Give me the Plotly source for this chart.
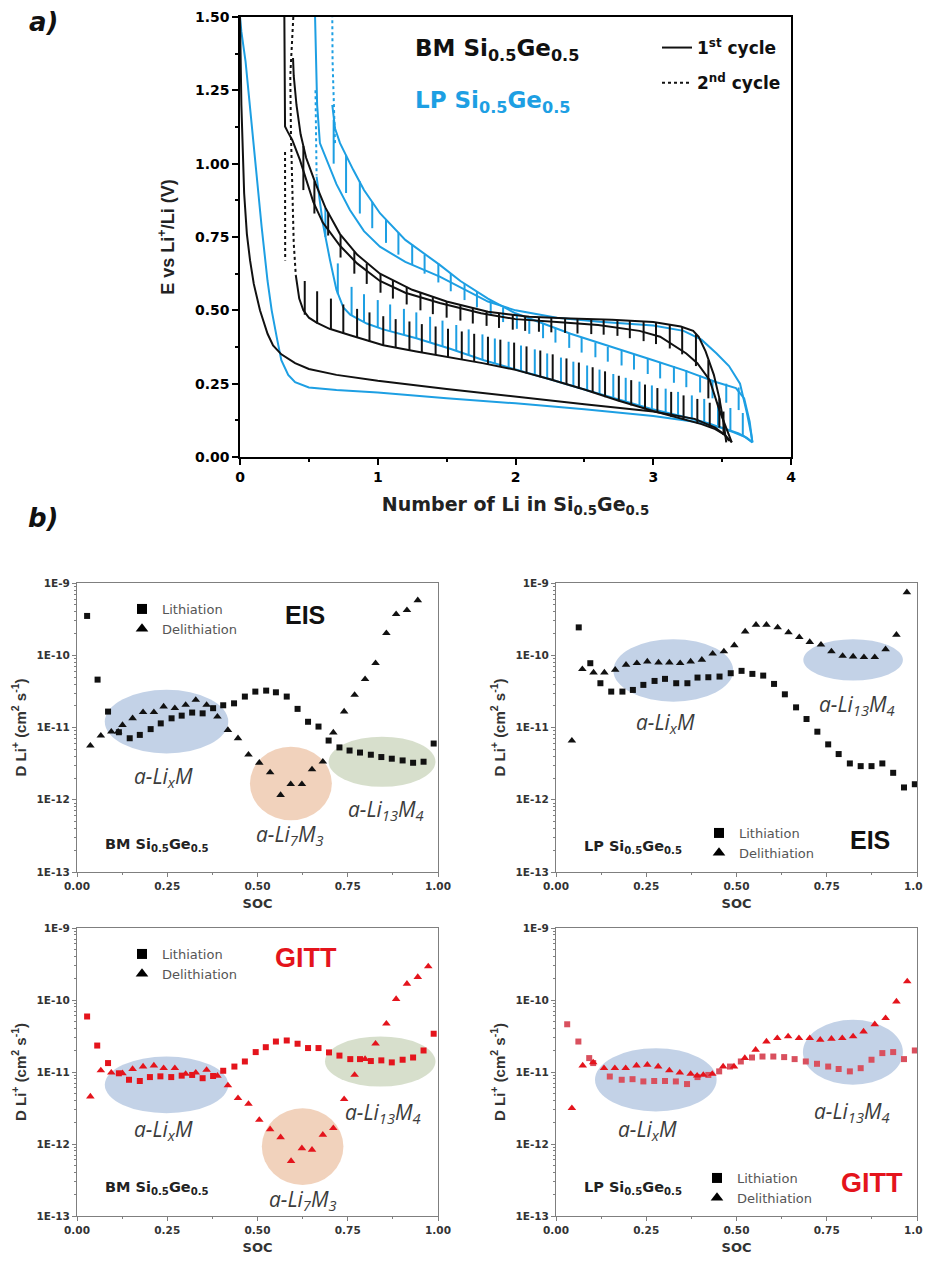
import numpy as np
import plotly.graph_objects as go

# page body adds an 8px margin: the figure is sized/positioned to compensate
OFF = 8
W, H = 931 - OFF, 1266 - OFF
BLACK = "#111111"
BLUE = "#1d9fe3"
RED = "#e4141c"
PINK = "#d9505e"
GRAY = "#7f7f7f"
FONT = "Liberation Sans"
WIDE = "DejaVu Sans"

# ================= panel a : voltage profiles =================
# BM Si0.5Ge0.5 - 1st lithiation (continuous)
bm_l1_x = [0.0, 0.01, 0.03, 0.05, 0.073, 0.1, 0.145, 0.2, 0.24, 0.3, 0.4, 0.5, 0.7, 1.0, 1.5, 2.0, 2.5, 3.0, 3.3, 3.45, 3.52, 3.57]
bm_l1_E = [1.5, 1.2, 0.9, 0.76, 0.67, 0.59, 0.5, 0.42, 0.38, 0.35, 0.32, 0.3, 0.28, 0.26, 0.232, 0.205, 0.18, 0.155, 0.13, 0.1, 0.075, 0.05]
# BM - 1st delithiation (continuous)
bm_d1_x = [3.57, 3.53, 3.48, 3.41, 3.32, 3.24, 3.15, 3.05, 2.9, 2.6, 2.3, 2.0, 1.75, 1.45, 1.2, 1.016, 0.85, 0.726, 0.6, 0.532, 0.435, 0.38, 0.345, 0.327, 0.322]
bm_d1_E = [0.05, 0.1, 0.16, 0.262, 0.32, 0.353, 0.38, 0.41, 0.43, 0.45, 0.46, 0.47, 0.49, 0.525, 0.56, 0.6, 0.66, 0.72, 0.8, 0.87, 1.013, 1.08, 1.11, 1.127, 1.5]
# BM - GITT lithiation (base curve + relaxation spikes)
bm_l2_x = [0.405, 0.43, 0.46, 0.5, 0.556, 0.65, 0.8, 1.04, 1.28, 1.52, 1.76, 2.0, 2.25, 2.5, 2.75, 3.0, 3.2, 3.35, 3.45, 3.52, 3.55]
bm_l2_E = [0.62, 0.54, 0.5, 0.475, 0.458, 0.437, 0.415, 0.381, 0.36, 0.341, 0.32, 0.297, 0.265, 0.23, 0.192, 0.157, 0.132, 0.112, 0.095, 0.075, 0.055]
bm_l2_sx = [0.47, 0.56, 0.66, 0.75, 0.85, 0.94, 1.04, 1.13, 1.23, 1.32, 1.42, 1.51, 1.61, 1.70, 1.80, 1.89, 1.99, 2.08, 2.18, 2.27, 2.37, 2.46, 2.56, 2.65, 2.75, 2.84, 2.94, 3.03, 3.13, 3.22, 3.32, 3.41, 3.51]
bm_l2_sb = [0.485, 0.455, 0.433, 0.42, 0.406, 0.393, 0.381, 0.372, 0.364, 0.356, 0.348, 0.341, 0.333, 0.325, 0.316, 0.307, 0.297, 0.285, 0.272, 0.26, 0.246, 0.233, 0.218, 0.204, 0.19, 0.176, 0.162, 0.15, 0.137, 0.127, 0.115, 0.102, 0.075]
bm_l2_st = [0.60, 0.565, 0.54, 0.52, 0.505, 0.493, 0.48, 0.47, 0.462, 0.453, 0.445, 0.437, 0.428, 0.42, 0.41, 0.4, 0.39, 0.377, 0.363, 0.35, 0.336, 0.322, 0.306, 0.292, 0.277, 0.262, 0.247, 0.235, 0.222, 0.21, 0.198, 0.185, 0.155]
# BM - GITT delithiation
bm_d2_x = [3.53, 3.51, 3.48, 3.44, 3.38, 3.33, 3.29, 3.2, 3.0, 2.7, 2.4, 2.1, 1.8, 1.5, 1.25, 1.016, 0.85, 0.726, 0.62, 0.55, 0.48, 0.44, 0.41, 0.39, 0.385]
bm_d2_E = [0.05, 0.12, 0.2, 0.28, 0.36, 0.41, 0.43, 0.445, 0.46, 0.468, 0.472, 0.478, 0.495, 0.53, 0.57, 0.625, 0.69, 0.76, 0.85, 0.93, 1.02, 1.1, 1.2, 1.3, 1.36]
bm_d2_sx = [0.46, 0.54, 0.64, 0.73, 0.83, 0.92, 1.02, 1.11, 1.21, 1.31, 1.40, 1.50, 1.60, 1.69, 1.79, 1.88, 1.98, 2.07, 2.17, 2.26, 2.36, 2.45, 2.55, 2.64, 2.74, 2.83, 2.93, 3.02, 3.12, 3.21, 3.31, 3.40, 3.48]
bm_d2_sb = [1.06, 0.94, 0.835, 0.757, 0.7, 0.66, 0.624, 0.602, 0.58, 0.56, 0.545, 0.53, 0.518, 0.508, 0.497, 0.49, 0.484, 0.479, 0.477, 0.475, 0.473, 0.471, 0.47, 0.469, 0.467, 0.465, 0.462, 0.459, 0.452, 0.443, 0.42, 0.33, 0.2]
bm_d2_st = [0.91, 0.83, 0.755, 0.68, 0.625, 0.59, 0.56, 0.54, 0.52, 0.5, 0.487, 0.475, 0.465, 0.455, 0.447, 0.44, 0.434, 0.43, 0.427, 0.425, 0.423, 0.421, 0.419, 0.417, 0.413, 0.405, 0.395, 0.385, 0.37, 0.35, 0.31, 0.2, 0.1]
# BM - 2nd cycle, sparse high-voltage points
bm_dot_x = [0.387, 0.375, 0.365, 0.37, 0.38, 0.39, 0.405, None, 0.327, 0.327, 0.328]
bm_dot_E = [1.5, 1.4, 1.3, 1.1, 0.9, 0.73, 0.62, None, 1.04, 0.85, 0.67]

# LP Si0.5Ge0.5 - 1st lithiation
lp_l1_x = [0.0, 0.01, 0.04, 0.07, 0.109, 0.157, 0.2, 0.23, 0.27, 0.3, 0.35, 0.4, 0.5, 0.7, 1.0, 1.5, 2.0, 2.5, 3.0, 3.3, 3.5, 3.62, 3.68, 3.72]
lp_l1_E = [1.5, 1.45, 1.35, 1.2, 1.013, 0.785, 0.6, 0.5, 0.4, 0.33, 0.28, 0.255, 0.237, 0.228, 0.22, 0.2, 0.183, 0.163, 0.14, 0.12, 0.1, 0.08, 0.065, 0.05]
# LP - 1st delithiation
lp_d1_x = [3.72, 3.71, 3.68, 3.63, 3.55, 3.46, 3.35, 3.22, 3.0, 2.61, 2.3, 2.0, 1.8, 1.45, 1.2, 1.016, 0.9, 0.798, 0.7, 0.629, 0.58, 0.56, 0.55, 0.545]
lp_d1_E = [0.05, 0.08, 0.15, 0.25, 0.31, 0.353, 0.4, 0.43, 0.448, 0.461, 0.475, 0.5, 0.53, 0.615, 0.665, 0.717, 0.77, 0.842, 0.93, 1.013, 1.07, 1.2, 1.35, 1.5]
# LP - GITT lithiation
lp_l2_x = [0.556, 0.6, 0.653, 0.7, 0.75, 0.8, 0.92, 1.04, 1.28, 1.52, 1.77, 2.0, 2.25, 2.5, 2.75, 2.98, 3.2, 3.4, 3.58, 3.66, 3.72]
lp_l2_E = [0.956, 0.8, 0.672, 0.57, 0.51, 0.485, 0.455, 0.435, 0.405, 0.37, 0.33, 0.3, 0.265, 0.23, 0.195, 0.165, 0.14, 0.115, 0.085, 0.07, 0.05]
lp_l2_sx = [0.62, 0.71, 0.81, 0.9, 1.0, 1.09, 1.19, 1.28, 1.38, 1.47, 1.57, 1.66, 1.76, 1.85, 1.95, 2.04, 2.14, 2.23, 2.33, 2.42, 2.52, 2.61, 2.71, 2.8, 2.9, 2.99, 3.09, 3.18, 3.28, 3.37, 3.47, 3.56, 3.65]
lp_l2_sb = [0.75, 0.555, 0.482, 0.46, 0.442, 0.43, 0.416, 0.405, 0.39, 0.378, 0.362, 0.347, 0.331, 0.317, 0.306, 0.294, 0.281, 0.268, 0.254, 0.24, 0.228, 0.215, 0.2, 0.188, 0.175, 0.163, 0.152, 0.142, 0.13, 0.119, 0.107, 0.088, 0.072]
lp_l2_st = [0.85, 0.66, 0.58, 0.555, 0.535, 0.52, 0.505, 0.493, 0.478, 0.465, 0.45, 0.435, 0.418, 0.404, 0.393, 0.38, 0.367, 0.353, 0.339, 0.325, 0.312, 0.298, 0.283, 0.27, 0.257, 0.244, 0.233, 0.222, 0.21, 0.198, 0.186, 0.167, 0.15]
# LP - GITT delithiation
lp_d2_x = [3.72, 3.7, 3.66, 3.6, 3.46, 3.22, 3.0, 2.8, 2.61, 2.4, 2.2, 2.0, 1.8, 1.6, 1.45, 1.2, 1.016, 0.9, 0.822, 0.726, 0.69, 0.67]
lp_d2_E = [0.05, 0.12, 0.2, 0.235, 0.255, 0.296, 0.33, 0.36, 0.387, 0.42, 0.455, 0.49, 0.54, 0.6, 0.655, 0.74, 0.831, 0.91, 0.979, 1.07, 1.12, 1.2]
lp_d2_sx = [0.68, 0.77, 0.87, 0.96, 1.06, 1.15, 1.25, 1.34, 1.44, 1.53, 1.63, 1.72, 1.82, 1.91, 2.01, 2.1, 2.2, 2.29, 2.39, 2.48, 2.58, 2.67, 2.77, 2.86, 2.96, 3.05, 3.15, 3.24, 3.34, 3.43, 3.53, 3.62]
lp_d2_sb = [1.15, 1.03, 0.94, 0.87, 0.81, 0.765, 0.725, 0.69, 0.66, 0.625, 0.59, 0.565, 0.535, 0.51, 0.487, 0.47, 0.455, 0.44, 0.422, 0.406, 0.39, 0.375, 0.364, 0.35, 0.336, 0.323, 0.31, 0.296, 0.278, 0.262, 0.25, 0.237]
lp_d2_st = [1.0, 0.9, 0.83, 0.78, 0.73, 0.69, 0.655, 0.625, 0.595, 0.565, 0.535, 0.51, 0.483, 0.46, 0.437, 0.42, 0.405, 0.39, 0.372, 0.356, 0.34, 0.325, 0.312, 0.298, 0.283, 0.268, 0.253, 0.238, 0.22, 0.2, 0.185, 0.16]
lp_dot_x = [0.69, 0.68, 0.672, 0.67, None, 0.548, 0.552, 0.556, 0.556]
lp_dot_E = [1.07, 1.2, 1.35, 1.5, None, 1.25, 1.16, 1.05, 0.96]

# ================= panel b : diffusion coefficients =================
bm_eis_lith_soc = [0.028, 0.057, 0.086, 0.116, 0.146, 0.174, 0.204, 0.232, 0.262, 0.29, 0.319, 0.348, 0.377, 0.405, 0.435, 0.465, 0.494, 0.524, 0.551, 0.581, 0.611, 0.64, 0.669, 0.697, 0.727, 0.755, 0.784, 0.814, 0.843, 0.872, 0.902, 0.931, 0.96, 0.988]
bm_eis_lith_D = [3.5e-10, 4.6e-11, 1.66e-11, 8.6e-12, 7.1e-12, 7.9e-12, 9.5e-12, 1.14e-11, 1.34e-11, 1.46e-11, 1.61e-11, 1.57e-11, 1.85e-11, 2.03e-11, 2.16e-11, 2.68e-11, 3.14e-11, 3.24e-11, 3.07e-11, 2.68e-11, 1.81e-11, 1.2e-11, 1.03e-11, 6.6e-12, 5.3e-12, 4.8e-12, 4.5e-12, 4.2e-12, 3.9e-12, 3.7e-12, 3.5e-12, 3.25e-12, 3.36e-12, 6.0e-12]
bm_eis_del_soc = [0.037, 0.066, 0.095, 0.114, 0.126, 0.154, 0.183, 0.213, 0.24, 0.271, 0.301, 0.329, 0.359, 0.389, 0.418, 0.446, 0.475, 0.505, 0.535, 0.564, 0.592, 0.623, 0.651, 0.681, 0.71, 0.74, 0.769, 0.798, 0.827, 0.857, 0.884, 0.914, 0.944]
bm_eis_del_D = [5.6e-12, 7.7e-12, 8.75e-12, 8.75e-12, 1.08e-11, 1.34e-11, 1.63e-11, 1.63e-11, 1.95e-11, 1.85e-11, 2.05e-11, 2.41e-11, 2.05e-11, 1.41e-11, 9.2e-12, 7.1e-12, 4.2e-12, 3.25e-12, 2.39e-12, 1.16e-12, 1.64e-12, 1.64e-12, 2.63e-12, 3.36e-12, 8.5e-12, 1.66e-11, 2.82e-11, 4.66e-11, 7.76e-11, 2.02e-10, 3.7e-10, 4.2e-10, 5.75e-10]

lp_eis_lith_soc = [0.063, 0.095, 0.123, 0.153, 0.184, 0.213, 0.242, 0.273, 0.302, 0.333, 0.364, 0.392, 0.422, 0.453, 0.484, 0.514, 0.544, 0.574, 0.604, 0.634, 0.665, 0.694, 0.724, 0.754, 0.783, 0.814, 0.844, 0.874, 0.904, 0.934, 0.964, 0.994]
lp_eis_lith_D = [2.43e-10, 7.76e-11, 4.1e-11, 3.14e-11, 3.14e-11, 3.31e-11, 3.89e-11, 4.41e-11, 4.71e-11, 4.1e-11, 4.1e-11, 4.91e-11, 4.96e-11, 5.07e-11, 5.64e-11, 6.08e-11, 5.52e-11, 5.23e-11, 4.01e-11, 2.88e-11, 1.9e-11, 1.31e-11, 8.75e-12, 5.84e-12, 4.29e-12, 3.18e-12, 2.92e-12, 2.92e-12, 3.18e-12, 2.36e-12, 1.48e-12, 1.64e-12]
lp_eis_del_soc = [0.044, 0.073, 0.104, 0.134, 0.164, 0.194, 0.224, 0.253, 0.284, 0.314, 0.344, 0.373, 0.404, 0.434, 0.465, 0.494, 0.524, 0.554, 0.583, 0.614, 0.644, 0.674, 0.703, 0.734, 0.763, 0.794, 0.823, 0.853, 0.883, 0.913, 0.943, 0.972]
lp_eis_del_D = [6.56e-12, 6.41e-11, 5.77e-11, 5.77e-11, 6.28e-11, 7.36e-11, 7.76e-11, 8.18e-11, 7.93e-11, 7.93e-11, 7.76e-11, 8.18e-11, 8.63e-11, 1.05e-10, 1.13e-10, 1.37e-10, 2.13e-10, 2.64e-10, 2.64e-10, 2.43e-10, 2.07e-10, 1.78e-10, 1.52e-10, 1.4e-10, 1.13e-10, 9.8e-11, 9.6e-11, 9.4e-11, 9.4e-11, 1.21e-10, 1.92e-10, 7.43e-10]

bm_gitt_lith_soc = [0.028, 0.056, 0.086, 0.116, 0.144, 0.174, 0.202, 0.231, 0.261, 0.29, 0.319, 0.348, 0.377, 0.405, 0.436, 0.465, 0.495, 0.523, 0.551, 0.581, 0.611, 0.64, 0.669, 0.698, 0.727, 0.757, 0.784, 0.814, 0.843, 0.872, 0.902, 0.931, 0.96, 0.988]
bm_gitt_lith_D = [5.9e-11, 2.33e-11, 1.33e-11, 9.6e-12, 7.8e-12, 7.5e-12, 8.5e-12, 8.7e-12, 8.5e-12, 8.9e-12, 9.1e-12, 8.2e-12, 8.8e-12, 1.04e-11, 1.19e-11, 1.4e-11, 1.89e-11, 2.21e-11, 2.65e-11, 2.74e-11, 2.47e-11, 2.15e-11, 2.15e-11, 1.87e-11, 1.69e-11, 1.51e-11, 1.51e-11, 1.42e-11, 1.45e-11, 1.36e-11, 1.48e-11, 1.59e-11, 1.99e-11, 3.4e-11]
bm_gitt_del_soc = [0.037, 0.066, 0.095, 0.126, 0.154, 0.183, 0.213, 0.24, 0.271, 0.301, 0.329, 0.359, 0.389, 0.418, 0.446, 0.475, 0.505, 0.535, 0.564, 0.593, 0.623, 0.651, 0.681, 0.71, 0.74, 0.769, 0.798, 0.827, 0.857, 0.884, 0.914, 0.944, 0.973]
bm_gitt_del_D = [4.56e-12, 1.05e-11, 9.8e-12, 9.6e-12, 1.1e-11, 1.19e-11, 1.23e-11, 1.13e-11, 1.13e-11, 9.4e-12, 9.8e-12, 1.07e-11, 8.85e-12, 6.5e-12, 4.33e-12, 3.6e-12, 2.16e-12, 1.6e-12, 1.24e-12, 5.8e-13, 8.7e-13, 8.3e-13, 1.34e-12, 1.66e-12, 4.19e-12, 9.1e-12, 1.51e-11, 2.47e-11, 4.68e-11, 1.03e-10, 1.68e-10, 2.08e-10, 2.93e-10]

lp_gitt_lith_soc = [0.031, 0.062, 0.092, 0.103, 0.149, 0.182, 0.212, 0.242, 0.272, 0.302, 0.332, 0.363, 0.392, 0.422, 0.452, 0.482, 0.512, 0.543, 0.572, 0.602, 0.632, 0.661, 0.692, 0.723, 0.754, 0.783, 0.814, 0.844, 0.874, 0.904, 0.934, 0.964, 0.994]
lp_gitt_lith_D = [4.6e-11, 2.65e-11, 1.56e-11, 1.33e-11, 8.65e-12, 7.8e-12, 7.95e-12, 7.4e-12, 7.5e-12, 7.5e-12, 7.4e-12, 6.8e-12, 8.5e-12, 9.1e-12, 1.02e-11, 1.19e-11, 1.4e-11, 1.59e-11, 1.64e-11, 1.64e-11, 1.61e-11, 1.51e-11, 1.4e-11, 1.3e-11, 1.19e-11, 1.1e-11, 1.02e-11, 1.13e-11, 1.48e-11, 1.83e-11, 1.89e-11, 1.51e-11, 1.99e-11]
lp_gitt_del_soc = [0.044, 0.074, 0.103, 0.133, 0.163, 0.193, 0.223, 0.253, 0.283, 0.314, 0.343, 0.373, 0.391, 0.408, 0.433, 0.463, 0.493, 0.523, 0.553, 0.583, 0.613, 0.643, 0.673, 0.703, 0.732, 0.763, 0.793, 0.823, 0.852, 0.883, 0.913, 0.943, 0.973]
lp_gitt_del_D = [3.14e-12, 1.23e-11, 1.36e-11, 1.13e-11, 1.13e-11, 1.13e-11, 1.23e-11, 1.26e-11, 1.19e-11, 1.05e-11, 9.8e-12, 9.4e-12, 8.9e-12, 9.1e-12, 9.4e-12, 1.19e-11, 1.19e-11, 1.56e-11, 2.03e-11, 2.65e-11, 2.95e-11, 3.12e-11, 2.95e-11, 2.95e-11, 2.8e-11, 2.89e-11, 2.95e-11, 3.12e-11, 3.65e-11, 4.6e-11, 5.6e-11, 9.5e-11, 1.81e-10]

# highlighted phase regions: (soc0, soc1, D0, D1, colour)
C_BLUE, C_ORANGE, C_GREEN = "#bdcde4", "#f0cdb5", "#d3dbc6"
bm_eis_regions = [(0.077, 0.419, 4.38e-12, 3.32e-11, C_BLUE), (0.479, 0.706, 5.2e-13, 5.42e-12, C_ORANGE), (0.697, 0.993, 1.51e-12, 7.46e-12, C_GREEN)]
lp_eis_regions = [(0.159, 0.491, 2.28e-11, 1.67e-10, C_BLUE), (0.685, 0.961, 4.47e-11, 1.67e-10, C_BLUE)]
bm_gitt_regions = [(0.077, 0.419, 2.68e-12, 1.64e-11, C_BLUE), (0.512, 0.738, 2.7e-13, 3.14e-12, C_ORANGE), (0.687, 0.993, 6.28e-12, 3.12e-11, C_GREEN)]
lp_gitt_regions = [(0.108, 0.445, 2.83e-12, 2.14e-11, C_BLUE), (0.684, 0.961, 6.64e-12, 5.31e-11, C_BLUE)]


def px(x):
    return (x - OFF) / W


def py(y):
    return 1 - (y - OFF) / H


def spikes(xs, base, tip):
    X, Y = [], []
    for a, b, c in zip(xs, base, tip):
        X += [a, a, None]
        Y += [b, c, None]
    return X, Y


fig = go.Figure()

# ---- panel a traces ----
def line(x, y, color, dash="solid", width=2, name=None, show=False, group=None):
    fig.add_trace(go.Scatter(x=x, y=y, mode="lines", line=dict(color=color, width=width, dash=dash),
                             xaxis="x", yaxis="y", showlegend=show, name=name, hoverinfo="skip",
                             connectgaps=False, legendgroup=group))

for col, l1x, l1E, d1x, d1E, l2x, l2E, l2s, d2x, d2E, d2s, dotx, dotE in [
    (BLUE, lp_l1_x, lp_l1_E, lp_d1_x, lp_d1_E, lp_l2_x, lp_l2_E, (lp_l2_sx, lp_l2_sb, lp_l2_st),
     lp_d2_x, lp_d2_E, (lp_d2_sx, lp_d2_sb, lp_d2_st), lp_dot_x, lp_dot_E),
    (BLACK, bm_l1_x, bm_l1_E, bm_d1_x, bm_d1_E, bm_l2_x, bm_l2_E, (bm_l2_sx, bm_l2_sb, bm_l2_st),
     bm_d2_x, bm_d2_E, (bm_d2_sx, bm_d2_sb, bm_d2_st), bm_dot_x, bm_dot_E),
]:
    line(l1x, l1E, col)
    line(d1x, d1E, col)
    line(l2x, l2E, col)
    sx, sy = spikes(*l2s)
    line(sx, sy, col)
    line(d2x, d2E, col)
    sx, sy = spikes(*d2s)
    line(sx, sy, col)
    line(dotx, dotE, col, dash="dot", width=2)

# legend entries of panel a
line([None], [None], BLACK, "solid", 2, "1<sup>st</sup> cycle", True, "c1")
line([None], [None], BLACK, "3px,3px", 2, "2<sup>nd</sup> cycle", True, "c2")

# ---- panel b traces ----
panels = [
    ("x2", "y2", "legend2", bm_eis_lith_soc, bm_eis_lith_D, bm_eis_del_soc, bm_eis_del_D, BLACK, BLACK, bm_eis_regions),
    ("x3", "y3", "legend3", lp_eis_lith_soc, lp_eis_lith_D, lp_eis_del_soc, lp_eis_del_D, BLACK, BLACK, lp_eis_regions),
    ("x4", "y4", "legend4", bm_gitt_lith_soc, bm_gitt_lith_D, bm_gitt_del_soc, bm_gitt_del_D, RED, RED, bm_gitt_regions),
    ("x5", "y5", "legend5", lp_gitt_lith_soc, lp_gitt_lith_D, lp_gitt_del_soc, lp_gitt_del_D, PINK, RED, lp_gitt_regions),
]
shapes = []
for xa, ya, lg, ls, lD, ds, dD, cl, cd, regions in panels:
    for s0, s1, D0, D1, c in regions:
        shapes.append(dict(type="circle", xref=xa, yref=ya, x0=s0, x1=s1, y0=D0, y1=D1,
                           fillcolor=c, line=dict(width=0), layer="below", opacity=0.9))
    fig.add_trace(go.Scatter(x=ls, y=lD, mode="markers", xaxis=xa, yaxis=ya, showlegend=False,
                             marker=dict(symbol="square", size=6, color=cl), hoverinfo="skip"))
    fig.add_trace(go.Scatter(x=ds, y=dD, mode="markers", xaxis=xa, yaxis=ya, showlegend=False,
                             marker=dict(symbol="triangle-up", size=7.5, color=cd), hoverinfo="skip"))
    fig.add_trace(go.Scatter(x=[None], y=[None], mode="markers", xaxis=xa, yaxis=ya, legend=lg,
                             name="Lithiation", marker=dict(symbol="square", size=10, color="black")))
    fig.add_trace(go.Scatter(x=[None], y=[None], mode="markers", xaxis=xa, yaxis=ya, legend=lg,
                             name="Delithiation", marker=dict(symbol="triangle-up", size=11, color="black")))

# ---- axes ----
tickA = dict(family=WIDE, size=14, color="black", weight="bold")
layout = dict(
    width=W, height=H, margin=dict(l=0, r=0, t=0, b=0, autoexpand=False),
    paper_bgcolor="white", plot_bgcolor="white",
    font=dict(family=FONT),
    shapes=shapes,
)
layout["xaxis"] = dict(domain=[px(240), px(791)], range=[0, 4], anchor="y", automargin=False,
                       showline=True, linecolor="black", linewidth=1.5, mirror=True,
                       ticks="outside", ticklen=6, tickwidth=1.5, tickcolor="black",
                       tickvals=[0, 1, 2, 3, 4], tickfont=tickA, showgrid=False, zeroline=False,
                       minor=dict(tickvals=[0.5, 1.5, 2.5, 3.5], ticks="outside", ticklen=3, tickwidth=1.5, tickcolor="black"),
                       title=dict(text="Number of Li in Si<sub>0.5</sub>Ge<sub>0.5</sub>",
                                  font=dict(family=WIDE, size=19, color="#222", weight="bold"), standoff=14))
layout["yaxis"] = dict(domain=[py(457), py(17)], range=[0, 1.5], anchor="x", automargin=False,
                       showline=True, linecolor="black", linewidth=1.5, mirror=True,
                       ticks="outside", ticklen=6, tickwidth=1.5, tickcolor="black",
                       tickvals=[0, 0.25, 0.5, 0.75, 1.0, 1.25, 1.5],
                       ticktext=["0.00", "0.25", "0.50", "0.75", "1.00", "1.25", "1.50"],
                       tickfont=tickA, showgrid=False, zeroline=False,
                       minor=dict(tickvals=[0.125, 0.375, 0.625, 0.875, 1.125, 1.375], ticks="outside", ticklen=3, tickwidth=1.5, tickcolor="black"),
                       title=dict(text="E vs Li<sup>+</sup>/Li (V)",
                                  font=dict(family=FONT, size=18, color="#222", weight="bold"), standoff=16))

small = dict(family=WIDE, size=10.5, color="#333", weight="bold")
logvals = [1e-13, 1e-12, 1e-11, 1e-10, 1e-9]
logtext = ["1E-13", "1E-12", "1E-11", "1E-10", "1E-9"]
minor_log = [m * 10.0 ** e for e in range(-13, -9) for m in range(2, 10)]
doms = {
    "2": ([px(77), px(438)], [py(872), py(583)]),
    "3": ([px(556), px(917)], [py(872), py(583)]),
    "4": ([px(77), px(438)], [py(1216), py(928)]),
    "5": ([px(556), px(917)], [py(1216), py(928)]),
}
for k, (dx, dy) in doms.items():
    layout["xaxis" + k] = dict(domain=dx, range=[0, 1], anchor="y" + k, automargin=False,
                               showline=True, linecolor=GRAY, linewidth=1, mirror=True,
                               ticks="outside", ticklen=4, tickcolor=GRAY,
                               tickvals=[0, 0.25, 0.5, 0.75, 1.0], ticktext=["0.00", "0.25", "0.50", "0.75", "1.00"],
                               tickfont=small, showgrid=False, zeroline=False,
                               minor=dict(tickvals=[0.125, 0.375, 0.625, 0.875], ticks="outside", ticklen=2, tickcolor=GRAY),
                               title=dict(text="SOC", font=dict(family=WIDE, size=13, color="#333", weight="bold"), standoff=8))
    layout["yaxis" + k] = dict(domain=dy, type="log", range=[-13, -9], anchor="x" + k, automargin=False,
                               showline=True, linecolor=GRAY, linewidth=1, mirror=True,
                               ticks="outside", ticklen=4, tickcolor=GRAY,
                               tickvals=logvals, ticktext=logtext, tickfont=small,
                               showgrid=False, zeroline=False,
                               minor=dict(tickvals=minor_log, ticks="outside", ticklen=2, tickcolor=GRAY),
                               title=dict(text="D Li<sup>+</sup> (cm<sup>2</sup> s<sup>-1</sup>)",
                                          font=dict(family=FONT, size=15, color="#333", weight="bold"), standoff=6))

# legends
layout["legend"] = dict(x=px(657), y=py(30), xanchor="left", yanchor="top", bgcolor="rgba(0,0,0,0)",
                        font=dict(family=WIDE, size=17, color="#111", weight="bold"), itemwidth=30,
                        tracegroupgap=10)
leg_font = dict(family=WIDE, size=13, color="#555")
for name, (lx, ly) in {"legend2": (122, 594), "legend3": (699, 818), "legend4": (122, 939), "legend5": (697, 1163)}.items():
    layout[name] = dict(x=px(lx), y=py(ly), xanchor="left", yanchor="top", bgcolor="rgba(0,0,0,0)",
                        font=leg_font, itemwidth=30, tracegroupgap=0)

fig.update_layout(**layout)

# ---- text annotations ----
def ann(text, x, y, size, color="#111", bold=True, xanchor="center", family=FONT):
    f = dict(family=family, size=size, color=color)
    if bold:
        f["weight"] = "bold"
    fig.add_annotation(text=text, x=px(x), y=py(y), xref="paper", yref="paper", showarrow=False,
                       xanchor=xanchor, yanchor="middle", font=f)

SG = "Si<sub>0.5</sub>Ge<sub>0.5</sub>"
ann("<i>a)</i>", 43, 22, 26, family=WIDE)
ann("<i>b)</i>", 43, 518, 26, family=WIDE)
ann("BM " + SG, 413, 50, 23, "#111", xanchor="left", family=WIDE)
ann("LP " + SG, 413, 102, 23, BLUE, xanchor="left", family=WIDE)

ph_col = "#3c3c3c"
IT = "Open Sans"
LixM = "<i>a-Li<sub>x</sub>M</i>"
Li7 = "<i>a-Li<sub>7</sub>M<sub>3</sub></i>"
Li13 = "<i>a-Li<sub>13</sub>M<sub>4</sub></i>"
# BM EIS
ann("EIS", 305, 615, 25, "#111")
ann("BM " + SG, 103, 845, 14.5, "#222", xanchor="left", family=WIDE)
ann(LixM, 163, 777, 21, ph_col, bold=False, family=IT)
ann(Li7, 290, 835, 21, ph_col, bold=False, family=IT)
ann(Li13, 386, 810, 21, ph_col, bold=False, family=IT)
# LP EIS
ann("EIS", 870, 840, 25, "#111")
ann("LP " + SG, 582, 847, 14.5, "#222", xanchor="left", family=WIDE)
ann(LixM, 665, 723, 21, ph_col, bold=False, family=IT)
ann(Li13, 857, 705, 21, ph_col, bold=False, family=IT)
# BM GITT
ann("GITT", 306, 958, 27, RED)
ann("BM " + SG, 103, 1188, 14.5, "#222", xanchor="left", family=WIDE)
ann(LixM, 163, 1130, 21, ph_col, bold=False, family=IT)
ann(Li7, 303, 1200, 21, ph_col, bold=False, family=IT)
ann(Li13, 383, 1113, 21, ph_col, bold=False, family=IT)
# LP GITT
ann("GITT", 872, 1183, 27, RED)
ann("LP " + SG, 582, 1188, 14.5, "#222", xanchor="left", family=WIDE)
ann(LixM, 647, 1130, 21, ph_col, bold=False, family=IT)
ann(Li13, 852, 1112, 21, ph_col, bold=False, family=IT)

fig.write_html("out.html")
